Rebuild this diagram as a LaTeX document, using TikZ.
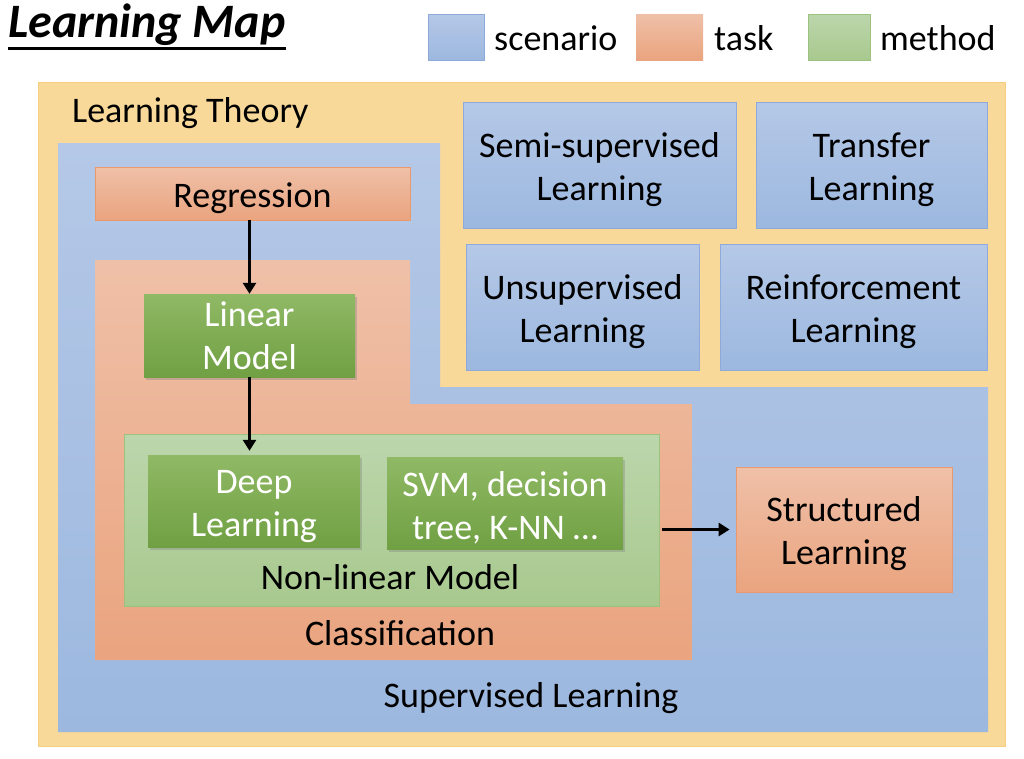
\documentclass[tikz,border=0pt]{standalone}
\usepackage{fontspec}
\setmainfont{Carlito}
\usetikzlibrary{shadows,arrows.meta,calc}
\definecolor{ylw}{HTML}{F8D999}
\definecolor{ylwedge}{HTML}{F6CF7E}
\definecolor{blueT}{HTML}{B5C8E7}
\definecolor{blueB}{HTML}{9CB8DF}
\definecolor{blueedge}{HTML}{8EAADB}
\definecolor{orT}{HTML}{EFC0A8}
\definecolor{orB}{HTML}{EAA47F}
\definecolor{oredge}{HTML}{E9996E}
\definecolor{lgT}{HTML}{BCD6AC}
\definecolor{lgB}{HTML}{A8C98E}
\definecolor{lgedge}{HTML}{9CC27F}
\definecolor{dgT}{HTML}{90B965}
\definecolor{dgB}{HTML}{70A043}
\newcommand\tpstrut{\rule{0pt}{34pt}}
\begin{document}
\begin{tikzpicture}[x=1pt,y=-1pt,
  txt/.style={font=\fontsize{36}{43}\selectfont, align=center, inner sep=0pt},
  scen/.style={txt, draw=blueedge, line width=0.8pt, top color=blueT, bottom color=blueB},
  taskbox/.style={txt, draw=oredge, line width=0.8pt, top color=orT, bottom color=orB},
  meth/.style={txt, text=white, draw=none, top color=dgT, bottom color=dgB,
     drop shadow={opacity=0.35, shadow xshift=1.5pt, shadow yshift=-2.5pt}},
  conn/.style={line width=2.9pt, -{Triangle[length=11pt,width=13pt]}},
  legbox/.style={minimum width=#1, minimum height=46pt, inner sep=0pt, line width=0.8pt}
]
\useasboundingbox (0,0) rectangle (1024,758);
\fill[white] (0,0) rectangle (1024,758);

% title
\node[anchor=base west, inner sep=0pt, font=\fontsize{48}{56}\selectfont\bfseries\itshape] (title) at (8,37) {Learning Map};
\draw[line width=2.8pt] ($(title.south west)+(0,3)$) -- ($(title.south east)+(0,3)$);

% legend
\node[legbox=56pt, draw=blueedge, top color=blueT, bottom color=blueB] (legS) at (456,37) {};
\node[legbox=67pt, draw=none, top color=orT, bottom color=orB] (legT) at (669.5,37) {};
\node[legbox=62pt, draw=lgedge, top color=lgT, bottom color=lgB] (legM) at (839,37) {};
\node[txt, anchor=west] (legSt) at (494,38) {scenario};
\node[txt, anchor=west] (legTt) at (714,38) {task};
\node[txt, anchor=west] (legMt) at (880,38) {method};

% learning theory
\filldraw[fill=ylw, draw=ylwedge, line width=0.8pt] (38,82) rectangle (1005,746);
\node[txt, anchor=west] (theory) at (72,113) {Learning Theory};

% supervised region
\shade[top color=blueT, bottom color=blueB] (58,143) -- (440,143) -- (440,387) -- (988,387) -- (988,732) -- (58,732) -- cycle;
\node[txt] (supervised) at (531,698) {Supervised Learning};

% classification region
\shade[top color=orT, bottom color=orB] (95,260) -- (410,260) -- (410,404) -- (692,404) -- (692,660) -- (95,660) -- cycle;
\node[txt] (classification) at (400,633) {Classification};

% non-linear model
\node[draw=lgedge, line width=0.8pt, top color=lgT, bottom color=lgB, minimum width=535pt, minimum height=172pt, inner sep=0pt] (nonlin) at (391.5,520) {};
\node[txt] (nonlintext) at (390,577) {Non-linear Model};

% scenario boxes
\node[scen, minimum width=273pt, minimum height=126pt] (semi) at (599.5,165) {\tpstrut Semi-supervised\\Learning};
\node[scen, minimum width=231pt, minimum height=126pt] (transfer) at (871.5,165) {\tpstrut Transfer\\Learning};
\node[scen, minimum width=233pt, minimum height=126pt] (unsup) at (582.5,307) {\tpstrut Unsupervised\\Learning};
\node[scen, minimum width=267pt, minimum height=126pt] (reinf) at (853.5,307) {\tpstrut Reinforcement\\Learning};

% tasks
\node[taskbox, minimum width=315pt, minimum height=53pt] (regression) at (252.5,193.5) {\tpstrut Regression};
\node[taskbox, minimum width=216pt, minimum height=125pt] (structured) at (844,529.5) {\tpstrut Structured\\Learning};

% methods
\node[meth, minimum width=211pt, minimum height=83pt] (linear) at (249.5,335.5) {Linear\\Model};
\node[meth, minimum width=212pt, minimum height=92pt] (deep) at (254,501) {\tpstrut Deep\\Learning};
\node[meth, minimum width=236pt, minimum height=92pt] (svm) at (505,503) {\tpstrut SVM, decision\\tree, K-NN …};

% connectors
\draw[conn] (regression.south -| linear.north) -- (linear.north);
\draw[conn, shorten >=4pt] (linear.south) -- (linear.south |- deep.north);
\draw[conn, shorten <=3pt, shorten >=6pt] (nonlin.east |- structured.west) -- (structured.west);
\end{tikzpicture}
\end{document}
